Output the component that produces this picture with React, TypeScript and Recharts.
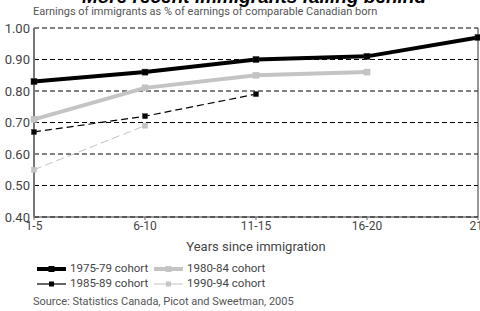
import React from "react";
import {
  CartesianGrid,
  Line,
  LineChart,
  ReferenceLine,
  XAxis,
  YAxis,
} from "recharts";

const categories = ["1-5", "6-10", "11-15", "16-20", "21-"];
const cohort7579 = [0.83, 0.86, 0.9, 0.91, 0.97];
const cohort8084 = [0.71, 0.81, 0.85, 0.86];
const cohort8589 = [0.67, 0.72, 0.79];
const cohort9094 = [0.55, 0.69];
const yTicks = [0.4, 0.5, 0.6, 0.7, 0.8, 0.9, 1.0];

const data = categories.map((c, i) => ({
  cat: c,
  c7579: cohort7579[i],
  c8084: cohort8084[i],
  c8589: cohort8589[i],
  c9094: cohort9094[i],
}));

const FONT = "Roboto, 'Open Sans', sans-serif";
const GRAY = "#c4c4c4";

const series = [
  { key: "c7579", name: "1975-79 cohort", color: "#000", width: 4, dash: undefined, size: 6 },
  { key: "c8084", name: "1980-84 cohort", color: GRAY, width: 4, dash: undefined, size: 6 },
  { key: "c8589", name: "1985-89 cohort", color: "#000", width: 1.2, dash: "7 4", size: 5 },
  { key: "c9094", name: "1990-94 cohort", color: GRAY, width: 1, dash: "8 4", size: 5 },
];

function squareDot(color: string, size: number) {
  return (props: any) => {
    const { cx, cy, index } = props;
    if (cx == null || cy == null || props.value == null) return <g key={index} />;
    return (
      <rect
        key={index}
        x={cx - size / 2}
        y={cy - size / 2}
        width={size}
        height={size}
        fill={color}
        stroke={color === "#000" ? "#333" : "#bbb"}
        strokeWidth={0.5}
      />
    );
  };
}

function LegendBox() {
  const item = (s: (typeof series)[number]) => (
    <div key={s.key} style={{ display: "flex", alignItems: "center", width: 117 }}>
      <svg width={32} height={10}>
        <line x1={1} x2={30} y1={5} y2={5} stroke={s.color} strokeWidth={s.width} />
        <rect
          x={15.5 - s.size / 2}
          y={5 - s.size / 2}
          width={s.size}
          height={s.size}
          fill={s.color}
        />
      </svg>
      <span style={{ marginLeft: 2 }}>{s.name}</span>
    </div>
  );
  return (
    <div style={{ fontFamily: FONT, fontSize: 11.5, color: "#444", lineHeight: "15px" }}>
      <div style={{ display: "flex" }}>{[series[0], series[1]].map(item)}</div>
      <div style={{ display: "flex" }}>{[series[2], series[3]].map(item)}</div>
    </div>
  );
}

export default function App() {
  return (
    <div style={{ position: "fixed", left: 0, top: 0, width: 480, height: 311, background: "#fff", overflow: "hidden" }}>
      <svg width={480} height={20} style={{ position: "absolute", left: 0, top: 0 }}>
        <text
          x={254}
          y={3}
          textAnchor="middle"
          fontFamily="'Liberation Sans', Arial, sans-serif"
          fontWeight="bold"
          fontStyle="italic"
          fontSize={19}
          fill="#000"
        >
          More recent immigrants falling behind
        </text>
        <text x={33} y={15} fontFamily={FONT} fontSize={11} fill="#555">
          Earnings of immigrants as % of earnings of comparable Canadian born
        </text>
      </svg>
      <div style={{ position: "absolute", left: 0, top: 0 }}>
        <LineChart
          width={480}
          height={311}
          data={data}
          margin={{ top: 28, right: 2, bottom: 74, left: 0 }}
        >
          <CartesianGrid vertical={false} stroke="#000" strokeDasharray="5 3" />
          <XAxis
            dataKey="cat"
            scale="point"
            padding={{ left: 0, right: 0 }}
            height={20}
            axisLine={{ stroke: "#333", strokeWidth: 1 }}
            tickLine={{ stroke: "#666" }}
            tickSize={3}
            tickMargin={1}
            tick={{ fontFamily: FONT, fontSize: 12, fill: "#444" }}
            interval={0}
            label={{
              value: "Years since immigration",
              position: "insideBottom",
              offset: -14,
              style: { fontFamily: FONT, fontSize: 13, fill: "#444" },
            }}
          />
          <YAxis
            width={34}
            domain={[0.4, 1.0]}
            ticks={yTicks}
            tickFormatter={(v: number) => v.toFixed(2)}
            axisLine={{ stroke: "#777", strokeWidth: 2 }}
            tickLine={false}
            tickSize={2}
            tickMargin={2}
            tick={{ fontFamily: FONT, fontSize: 13, fill: "#444" }}
          />
          <ReferenceLine x="21-" stroke="#333" strokeWidth={1} />
          {series.map((s) => (
            <Line
              key={s.key}
              dataKey={s.key}
              name={s.name}
              stroke={s.color}
              strokeWidth={s.width}
              strokeDasharray={s.dash}
              dot={squareDot(s.color, s.size)}
              activeDot={false}
              isAnimationActive={false}
              connectNulls={false}
            />
          ))}
        </LineChart>
      </div>
      <div style={{ position: "absolute", left: 36, top: 261, width: 300 }}>
        <LegendBox />
      </div>
      <div
        style={{
          position: "absolute",
          left: 33,
          top: 295,
          fontFamily: FONT,
          fontSize: 11,
          color: "#555",
          whiteSpace: "nowrap",
        }}
      >
        Source: Statistics Canada, Picot and Sweetman, 2005
      </div>
    </div>
  );
}
